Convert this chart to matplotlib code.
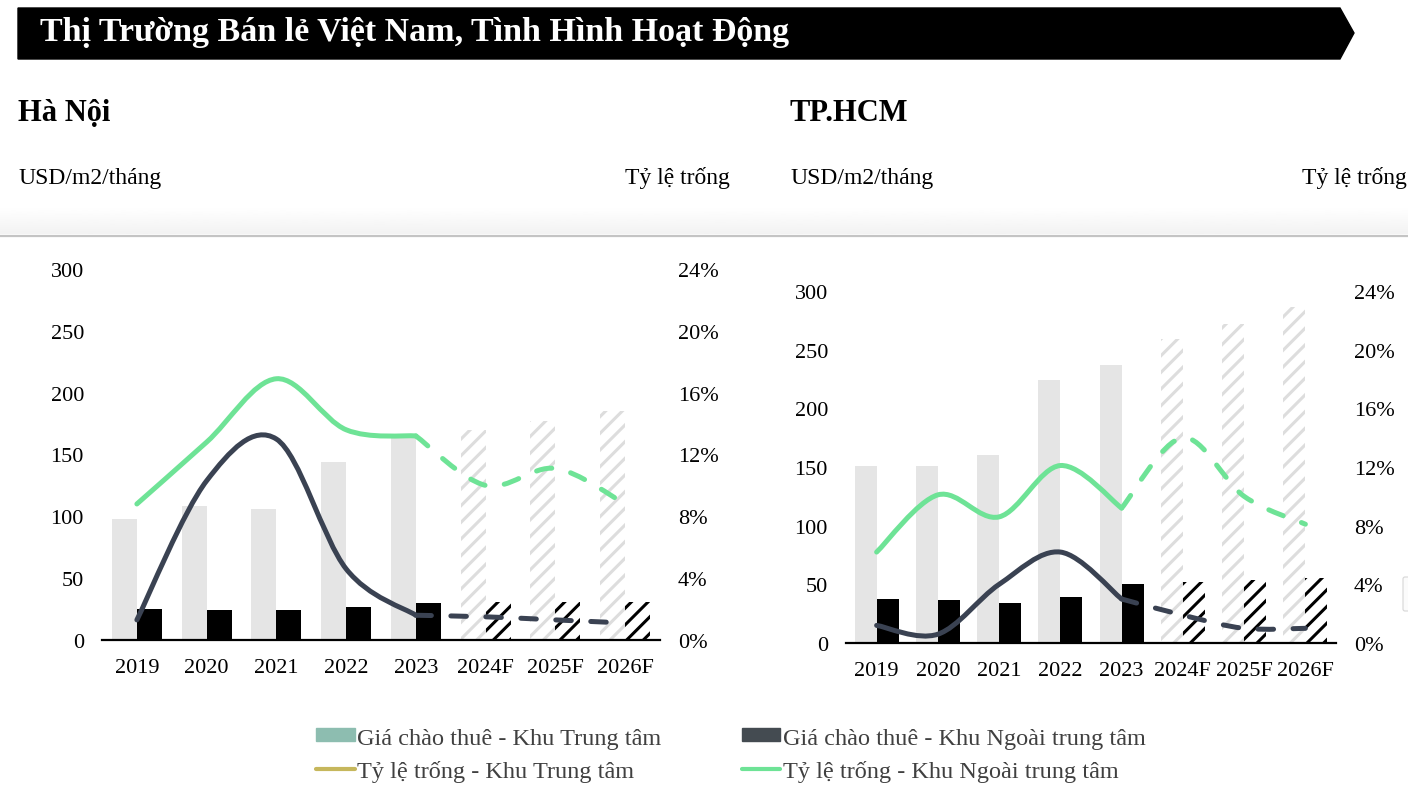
import numpy as np
import matplotlib
matplotlib.use('Agg')
import matplotlib.pyplot as plt
from matplotlib.path import Path
from matplotlib.patches import PathPatch, Polygon, Patch, FancyBboxPatch
from matplotlib.lines import Line2D
from matplotlib.ticker import FuncFormatter

plt.rcParams['font.family'] = ['Liberation Serif', 'DejaVu Serif']
plt.rcParams['hatch.linewidth'] = 2.2

# Dữ liệu
years = ['2019', '2020', '2021', '2022', '2023', '2024F', '2025F', '2026F']
n_actual = 5  # 2019-2023 thực tế, còn lại là dự báo

# Hà Nội
hn_rent_cbd = [98, 108, 106, 144, 163, 170, 177, 185]
hn_rent_out = [25, 24, 24, 26.5, 30, 30.5, 30.5, 30.5]
hn_vac_cbd = [1.3, 10.3, 13.0, 4.6, 1.6, 1.5, 1.3, 1.1]
hn_vac_out = [8.8, 12.8, 16.9, 13.6, 13.2, 10.0, 11.1, 8.8]

# TP.HCM
hcm_rent_cbd = [151, 151, 160.5, 224, 237, 259, 272, 286]
hcm_rent_out = [37.6, 36.7, 34.2, 39.3, 50.4, 51.8, 53.8, 55.2]
hcm_vac_cbd = [1.2, 0.6, 4.0, 6.2, 3.0, 1.9, 1.0, 1.0]
hcm_vac_out = [6.2, 10.1, 8.6, 12.1, 9.2, 14.0, 10.0, 8.1]

legend_labels = ['Giá chào thuê - Khu Trung tâm', 'Tỷ lệ trống - Khu Trung tâm',
                 'Giá chào thuê - Khu Ngoài trung tâm', 'Tỷ lệ trống - Khu Ngoài trung tâm']

c_gray = '#e5e5e5'
c_gray_hatch = '#dddddd'
c_dark = '#3a4252'
c_green = '#6ee396'
W, H = 1408, 812


def smooth_path(xs, ys):
    # đường cong mượt kiểu Excel (Catmull-Rom -> Bezier)
    pts = np.column_stack([xs, ys]).astype(float)
    p = np.vstack([pts[0], pts, pts[-1]])
    verts = [pts[0]]
    codes = [Path.MOVETO]
    for i in range(1, len(p) - 2):
        c1 = p[i] + (p[i + 1] - p[i - 1]) / 6
        c2 = p[i + 1] - (p[i + 2] - p[i]) / 6
        verts += [c1, c2, p[i + 1]]
        codes += [Path.CURVE4] * 3
    return Path(verts, codes)


def draw_line(ax, vals, color):
    x = np.arange(len(vals))
    v = np.array(vals) / 100
    solid = PathPatch(smooth_path(x[:n_actual], v[:n_actual]), fill=False,
                      edgecolor=color, lw=3.6, capstyle='round')
    dashed = PathPatch(smooth_path(x[n_actual - 1:], v[n_actual - 1:]), fill=False,
                       edgecolor=color, lw=3.6, capstyle='round',
                       linestyle=(0, (3.1, 3.9)))
    ax.add_patch(solid)
    ax.add_patch(dashed)


def draw_chart(rect, rent_cbd, rent_out, vac_cbd, vac_out):
    ax = fig.add_axes(rect)
    x = np.arange(len(years))
    w = 0.36
    for i in x:
        if i < n_actual:
            ax.bar(i - w / 2, rent_cbd[i], w, color=c_gray, lw=0)
            ax.bar(i + w / 2, rent_out[i], w, color='black', lw=0)
        else:
            ax.bar(i - w / 2, rent_cbd[i], w, facecolor='white',
                   edgecolor=c_gray_hatch, hatch='//', lw=0)
            ax.bar(i + w / 2, rent_out[i], w, facecolor='white',
                   edgecolor='black', hatch='//', lw=0)
    ax.set_xlim(-0.5, len(years) - 0.5)
    ax.set_ylim(0, 300)
    ax.set_yticks(range(0, 301, 50))
    ax.set_xticks(x)
    ax.set_xticklabels(years)
    for s in ['top', 'left', 'right']:
        ax.spines[s].set_visible(False)
    ax.spines['bottom'].set_linewidth(1.6)
    ax.tick_params(axis='y', length=0, pad=13, labelsize=16)
    ax.tick_params(axis='x', length=0, pad=13, labelsize=16)
    ax.patch.set_alpha(0)

    ax2 = ax.twinx()
    ax2.set_ylim(0, 0.24)
    ax2.set_yticks(np.arange(0, 0.241, 0.04))
    ax2.yaxis.set_major_formatter(FuncFormatter(lambda v, p: f'{v * 100:.0f}%'))
    for s in ax2.spines.values():
        s.set_visible(False)
    ax2.tick_params(axis='y', length=0, pad=13, labelsize=16)
    draw_line(ax2, vac_cbd, c_dark)
    draw_line(ax2, vac_out, c_green)
    return ax


fig = plt.figure(figsize=(W / 100, H / 100), dpi=100)

# nền, tiêu đề và chữ đầu trang (toạ độ pixel)
bg = fig.add_axes([0, 0, 1, 1], zorder=-5)
bg.add_patch(Polygon([[18, 9], [1340, 9], [1354, 34], [1340, 60], [18, 60]],
                     closed=True, color='black'))
bg.text(40, 41, 'Thị Trường Bán lẻ Việt Nam, Tình Hình Hoạt Động', color='white',
        fontsize=24.5, fontweight='bold', va='baseline', ha='left')
bg.text(18, 121, 'Hà Nội', fontsize=22, fontweight='bold', va='baseline')
bg.text(790, 121, 'TP.HCM', fontsize=22, fontweight='bold', va='baseline')
bg.text(18, 184, 'USD/m2/tháng', fontsize=17, va='baseline')
bg.text(730, 184, 'Tỷ lệ trống', fontsize=17, va='baseline', ha='right')
bg.text(790, 184, 'USD/m2/tháng', fontsize=17, va='baseline')
bg.text(1407, 184, 'Tỷ lệ trống', fontsize=17, va='baseline', ha='right')
grad = np.linspace(1, 0.95, 50).reshape(-1, 1)
bg.imshow(grad, cmap='gray', vmin=0, vmax=1, extent=[0, W, 235, 208], aspect='auto')
bg.plot([0, W], [236.5, 236.5], color='#c4c4c4', lw=1.6)
bg.add_patch(FancyBboxPatch((1403, 578), 10, 34, boxstyle='round,pad=0,rounding_size=2',
                            facecolor='#fbfbfb', edgecolor='#d6d6d6', lw=0.8))
bg.set_xlim(0, W)
bg.set_ylim(H, 0)
bg.axis('off')

draw_chart([102 / W, 1 - 641 / H, 558 / W, 371 / H],
           hn_rent_cbd, hn_rent_out, hn_vac_cbd, hn_vac_out)
draw_chart([846 / W, 1 - 644 / H, 490 / W, 352 / H],
           hcm_rent_cbd, hcm_rent_out, hcm_vac_cbd, hcm_vac_out)

handles = [Patch(color='#8dbdb0'),
           Line2D([], [], color='#c6b75c', lw=3, solid_capstyle='round'),
           Patch(color='#444b51'),
           Line2D([], [], color=c_green, lw=3, solid_capstyle='round')]
fig.legend(handles, legend_labels, ncol=2, loc='center', bbox_to_anchor=(0.519, 0.0695),
           frameon=False, fontsize=17.5, handlelength=1.6, handleheight=0.45,
           handletextpad=0.1, columnspacing=3.3, labelspacing=0.45, labelcolor='#404040')

fig.savefig('out.png', dpi=100)
